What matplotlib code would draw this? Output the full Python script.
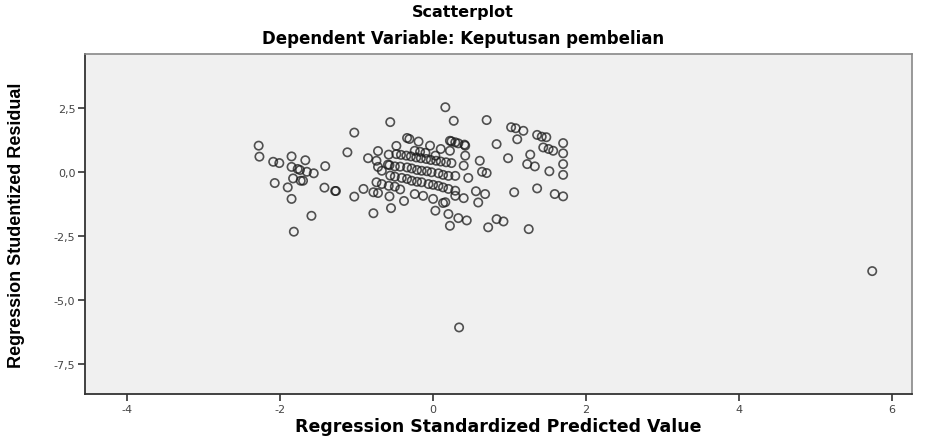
import matplotlib
matplotlib.use("Agg")
import matplotlib.pyplot as plt
import matplotlib.ticker as mticker
import numpy as np

# regression standardized predicted value / studentized residual
pred = [
    -2.28, -2.27, -2.09, -2.01, -1.85, -1.67, -1.85, -1.77, -1.74, -1.65,
    -1.56, -1.41, -1.83, -1.73, -1.70, -2.07, -1.90, -1.42, -1.28, -1.27,
    -1.85, -1.59, -1.82, -1.03, -1.12, -1.03, -0.91,
    -0.56, -0.72, -0.48, -0.34, -0.31, -0.19, -0.85, -0.74, -0.58, -0.57,
    -0.72, -0.67, -0.74, -0.67, -0.58, -0.50, -0.78, -0.72, -0.57, -0.43,
    -0.38, -0.55, -0.78,
    0.16, 0.27, 0.70, -0.04, 0.22, 0.29, 0.41, 0.83, 1.02, 1.08,
    1.18, 1.10, 1.36, 1.42, 1.48, 1.70, 1.44, 1.51, 1.57, 1.27,
    1.70, 0.98, 0.61, 0.42, 1.23, 1.33, 1.52, 1.70, 1.70, 0.64,
    0.70, 0.46, 0.40, 1.06, 1.36, 1.59, 1.70, 0.56, 0.68, 0.59,
    0.16, 0.40, 0.20, 0.33, 0.44, 0.83, 0.92, 0.72, 1.25, 0.22,
    0.03, -0.24, -0.13, 0.00, 0.13, 0.29, 0.10, 0.22,
    0.24, 0.33, 0.42, -0.24, -0.17, -0.10, 0.03,
    # upper band
    -0.48, -0.42, -0.35, -0.29, -0.22, -0.16, -0.09, -0.03, 0.04, 0.10,
    0.17, 0.24,
    # middle band
    -0.59, -0.50, -0.43, -0.34, -0.28, -0.21, -0.15, -0.08, -0.02, 0.07,
    0.13, 0.20, 0.29,
    # lower band
    -0.56, -0.50, -0.41, -0.34, -0.28, -0.21, -0.15, -0.06, 0.00, 0.07,
    0.13, 0.20, 0.29,
    # outliers
    0.34, 5.74,
]
resid = [
    1.03, 0.60, 0.40, 0.35, 0.61, 0.46, 0.20, 0.12, 0.08, 0.01,
    -0.05, 0.23, -0.25, -0.34, -0.34, -0.43, -0.60, -0.61, -0.74, -0.74,
    -1.05, -1.71, -2.33, 1.54, 0.77, -0.96, -0.66,
    1.95, 0.82, 1.02, 1.33, 1.29, 1.19, 0.54, 0.44, 0.68, 0.27,
    0.20, 0.05, -0.40, -0.47, -0.54, -0.57, -0.79, -0.82, -0.95, -0.68,
    -1.13, -1.41, -1.61,
    2.53, 2.00, 2.03, 1.03, 1.22, 1.16, 1.07, 1.09, 1.75, 1.71,
    1.61, 1.28, 1.45, 1.38, 1.36, 1.13, 0.96, 0.90, 0.83, 0.68,
    0.73, 0.54, 0.44, 0.64, 0.31, 0.22, 0.03, 0.31, -0.11, 0.01,
    -0.04, -0.23, 0.25, -0.79, -0.64, -0.86, -0.95, -0.75, -0.86, -1.19,
    -1.18, -1.02, -1.64, -1.80, -1.89, -1.84, -1.93, -2.16, -2.23, -2.10,
    -1.51, -0.86, -0.93, -1.05, -1.21, -0.93, 0.90, 0.83,
    1.20, 1.12, 1.03, 0.83, 0.79, 0.75, 0.64,
    0.70, 0.67, 0.64, 0.61, 0.57, 0.54, 0.51, 0.47, 0.44, 0.41,
    0.38, 0.35,
    0.29, 0.22, 0.21, 0.18, 0.14, 0.08, 0.05, 0.03, -0.01, -0.05,
    -0.11, -0.15, -0.15,
    -0.14, -0.18, -0.23, -0.27, -0.34, -0.38, -0.40, -0.47, -0.50, -0.54,
    -0.60, -0.66, -0.73,
    -6.07, -3.87,
]

x_ticks = [-4, -2, 0, 2, 4, 6]
y_ticks = [2.5, 0.0, -2.5, -5.0, -7.5]

fig = plt.figure(figsize=(9.26, 4.39), dpi=100)
fig.patch.set_facecolor("white")
ax = fig.add_axes([85 / 926, 1 - 395 / 439, 827 / 926, 340 / 439])
ax.set_facecolor("#f0f0f0")

ax.scatter(pred, resid, s=36, facecolors="none", edgecolors="#1a1a1a",
           linewidths=1.2, alpha=0.75, zorder=3)

ax.set_xlim(-4.55, 6.26)
ax.set_ylim(-8.67, 4.61)
ax.set_xticks(x_ticks)
ax.set_yticks(y_ticks)
ax.yaxis.set_major_formatter(mticker.FuncFormatter(lambda v, p: ("%.1f" % v).replace(".", ",")))
ax.xaxis.set_major_formatter(mticker.FuncFormatter(lambda v, p: "%d" % v))
ax.tick_params(axis="both", direction="out", length=5, width=1.2, color="#333333",
               labelsize=8, labelcolor="#444444", pad=2)

for side in ["top", "right"]:
    ax.spines[side].set_color("#888888")
    ax.spines[side].set_linewidth(1.2)
for side in ["left", "bottom"]:
    ax.spines[side].set_color("#333333")
    ax.spines[side].set_linewidth(1.3)

wide = ["DejaVu Sans"]
ax.set_xlabel("Regression Standardized Predicted Value", fontsize=12.5,
              fontweight="bold", family=wide, va="center")
ax.xaxis.set_label_coords(0.5, -32 / 340)
fig.text(17 / 926, 1 - 225 / 439, "Regression Studentized Residual", rotation=90,
         ha="center", va="center", fontsize=13, fontweight="bold",
         family=["Liberation Sans Narrow", "Liberation Sans", "DejaVu Sans"])

fig.text(0.5, 1 - 12 / 439, "Scatterplot", ha="center", va="center", fontsize=11.5,
         fontweight="bold", family=wide)
fig.text(0.5, 1 - 39 / 439, "Dependent Variable: Keputusan pembelian", ha="center",
         va="center", fontsize=12, fontweight="bold", family=wide)

fig.savefig("out.png", dpi=100)
